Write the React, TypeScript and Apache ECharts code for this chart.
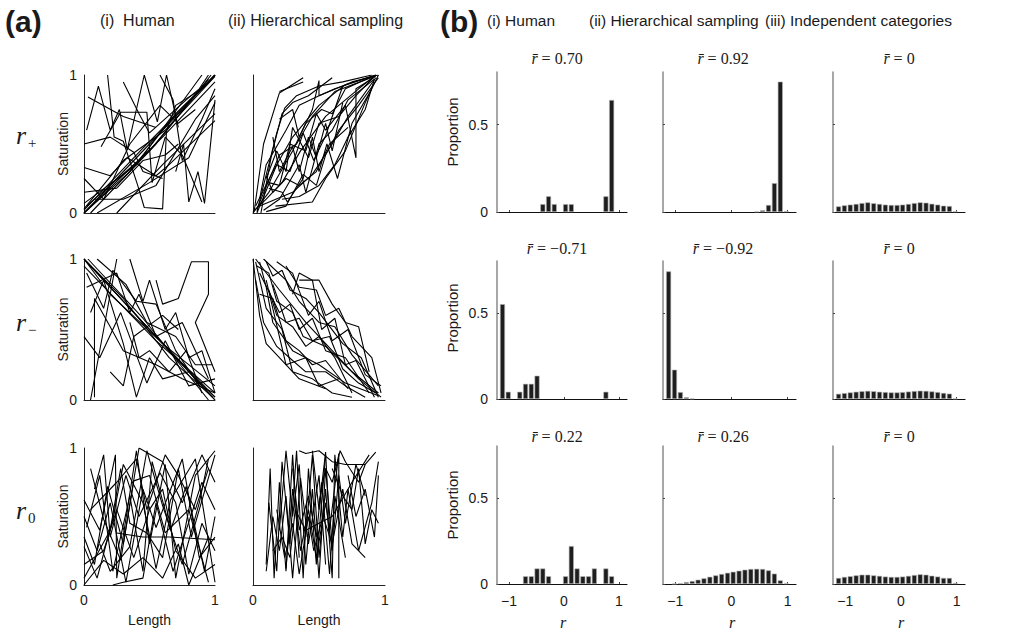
import React, { useEffect, useRef } from 'react';
import * as echarts from 'echarts';

// ---------- (a) chains of stimuli: [length, saturation] ----------
const humanPos: number[][][] = [
  [[0, 0], [1, 1]],
  [[0, 0.02], [0.45, 0.47], [1, 1]],
  [[0, 0], [0.35, 0.3], [0.7, 0.72], [1, 1]],
  [[0.02, 0.05], [0.5, 0.45], [0.95, 0.97]],
  [[0, 0], [0.6, 0.55], [1, 0.95]],
  [[0, 0.07], [0.4, 0.35], [0.9, 1]],
  [[0.05, 0], [0.55, 0.5], [0.97, 1]],
  [[0, 0.03], [0.3, 0.38], [0.62, 0.6], [1, 0.99]],
  [[0.02, 0.6], [0.11, 0.92], [0.2, 0.6], [0.27, 0.75], [0.33, 0.46], [0.46, 1.0], [0.56, 0.66], [0.63, 1.0], [0.72, 0.62]],
  [[0.18, 1.0], [0.23, 0.55], [0.3, 0.52], [0.41, 0.2], [0.46, 0.04], [0.6, 0.03], [0.63, 0.6], [0.7, 0.78], [0.9, 0.9], [1.0, 1.0]],
  [[0.03, 0.84], [0.3, 0.7], [0.55, 0.62]],
  [[0.13, 0.48], [0.28, 0.73], [0.48, 0.73], [0.52, 0.22], [0.62, 0.55], [0.75, 0.42], [0.9, 0.08]],
  [[0, 0.33], [0.2, 0.27], [0.33, 0.4], [0.55, 0.27], [0.65, 0.35], [1.0, 0.67]],
  [[0.1, 0], [0.5, 0.22], [0.8, 0.4], [1.0, 0.8]],
  [[0.25, 0], [0.6, 0.35], [1.0, 0.72]],
  [[0.7, 0.3], [0.76, 0.5], [0.8, 0.08], [0.87, 0.3], [0.92, 0.07], [1.0, 0.82]],
  [[0.08, 0.1], [0.3, 0.1], [0.55, 0.2], [0.85, 0.68], [1.0, 0.85]],
  [[0, 0.25], [0.15, 0.1], [0.35, 0.5], [0.58, 0.78], [0.72, 0.65], [0.85, 0.75]],
  [[0.58, 1.0], [0.68, 0.82], [0.75, 0.38], [0.85, 0.58], [0.9, 0.68], [1.0, 0.9]],
  [[0.0, 0.5], [0.2, 0.55], [0.38, 0.44], [0.45, 0.3], [0.6, 0.25]],
  [[0.3, 0.95], [0.42, 0.72], [0.5, 0.58], [0.78, 0.82], [0.88, 0.9], [0.95, 1.0]],
  [[0.0, 0.15], [0.25, 0.18], [0.45, 0.38], [0.62, 0.42], [0.72, 0.5]],
];

const hierPos: number[][][] = [
  [[0.01, 0.02], [0.08, 0.5], [0.2, 0.87], [0.38, 0.98]],
  [[0.02, 0.05], [0.15, 0.3], [0.3, 0.55], [0.5, 0.78], [0.7, 0.93], [0.93, 1]],
  [[0.03, 0.03], [0.2, 0.42], [0.33, 0.5], [0.45, 0.7], [0.62, 0.88], [0.92, 0.99]],
  [[0.05, 0.1], [0.1, 0.35], [0.25, 0.6], [0.35, 0.78], [0.5, 0.85], [0.75, 0.95], [0.95, 1]],
  [[0.0, 0.01], [0.1, 0.1], [0.22, 0.22], [0.36, 0.45], [0.55, 0.7], [0.8, 0.9], [0.93, 1]],
  [[0.05, 0.05], [0.3, 0.15], [0.45, 0.28], [0.6, 0.5], [0.72, 0.7], [0.93, 0.98]],
  [[0.17, 0.05], [0.45, 0.08], [0.55, 0.25], [0.7, 0.45], [0.85, 0.8], [0.95, 1]],
  [[0.1, 0.25], [0.18, 0.45], [0.25, 0.3], [0.3, 0.62], [0.42, 0.4], [0.5, 0.65], [0.65, 0.7], [0.78, 0.85], [0.93, 1]],
  [[0.08, 0.02], [0.2, 0.1], [0.35, 0.35], [0.4, 0.15], [0.5, 0.5], [0.6, 0.6], [0.72, 0.82], [0.92, 0.97]],
  [[0.2, 0.68], [0.3, 0.75], [0.35, 0.55], [0.45, 0.75], [0.5, 0.96], [0.5, 0.85], [0.62, 0.9], [0.93, 1]],
  [[0.12, 0.22], [0.2, 0.2], [0.28, 0.5], [0.4, 0.45], [0.48, 0.72], [0.55, 0.6], [0.7, 0.78], [0.78, 0.4], [0.78, 0.9], [0.93, 0.99]],
  [[0.1, 0.27], [0.15, 0.15], [0.25, 0.25], [0.35, 0.2], [0.48, 0.3], [0.58, 0.5], [0.72, 0.62]],
  [[0.03, 0.0], [0.18, 0.35], [0.28, 0.3], [0.38, 0.58], [0.46, 0.38], [0.55, 0.56], [0.68, 0.92]],
  [[0.0, 0.0], [0.12, 0.15], [0.3, 0.45], [0.4, 0.65], [0.52, 0.75], [0.6, 0.72], [0.7, 0.9], [0.88, 0.98]],
  [[0.22, 0.1], [0.35, 0.12], [0.5, 0.2], [0.62, 0.35], [0.72, 0.55], [0.85, 0.75], [0.92, 0.97]],
  [[0.06, 0.0], [0.14, 0.42], [0.22, 0.72], [0.3, 0.8], [0.42, 0.85], [0.6, 0.98]],
  [[0.15, 0.55], [0.2, 0.3], [0.3, 0.48], [0.35, 0.3], [0.42, 0.55], [0.48, 0.4], [0.55, 0.65], [0.6, 0.45], [0.68, 0.8]],
  [[0.2, 0.88], [0.38, 0.95]],
  [[0.1, 0.01], [0.25, 0.05], [0.38, 0.28], [0.48, 0.2], [0.55, 0.42], [0.65, 0.6], [0.8, 0.78], [0.95, 0.98]],
  [[0.03, 0.01], [0.18, 0.58], [0.24, 0.76], [0.33, 0.85], [0.5, 0.92], [0.68, 0.95], [0.9, 1]],
  [[0.12, 0.18], [0.22, 0.15], [0.26, 0.08], [0.38, 0.25], [0.45, 0.55], [0.5, 0.3], [0.56, 0.5], [0.64, 0.25], [0.75, 0.65], [0.9, 0.9]],
];

const humanNeg: number[][][] = [
  [[0, 1], [1, 0]],
  [[0, 1], [0.5, 0.5], [1, 0.02]],
  [[0.02, 0.98], [0.4, 0.6], [0.7, 0.3], [1, 0]],
  [[0, 1], [0.3, 0.72], [0.65, 0.3], [0.98, 0.02]],
  [[0, 0.95], [0.55, 0.42], [1, 0.05]],
  [[0.03, 1], [0.45, 0.58], [0.95, 0]],
  [[0, 1], [0.2, 0.75], [0.6, 0.4], [1, 0.1]],
  [[0.55, 0.85], [0.6, 0.68], [0.72, 0.72], [0.82, 0.98], [0.95, 0.98], [0.95, 0.75], [0.85, 0.55], [1, 0.2]],
  [[0.08, 0.02], [0.08, 0.72], [0.2, 0.52], [0.3, 0.35], [0.55, 0.25], [0.75, 0.15], [1, 0.05]],
  [[0.25, 1], [0.15, 0.5], [0.05, 0]],
  [[0.02, 0.8], [0.25, 0.9], [0.35, 0.62], [0.42, 0.75], [0.55, 0.45], [0.75, 0.55], [0.95, 0.15]],
  [[0.05, 0.62], [0.15, 0.85], [0.3, 0.4], [0.4, 0.02], [0.5, 0.3], [0.6, 0.15], [0.8, 0.2], [1, 0.02]],
  [[0.35, 1], [0.45, 0.7], [0.5, 0.85], [0.62, 0.5], [0.7, 0.62], [0.8, 0.3], [0.9, 0.35], [1, 0.05]],
  [[0, 0.45], [0.12, 0.3], [0.28, 0.62], [0.48, 0.12], [0.62, 0.42], [0.8, 0.1], [1, 0.15]],
  [[0.1, 1], [0.32, 0.82], [0.48, 0.55], [0.7, 0.45], [0.85, 0.25], [0.98, 0.25]],
  [[0.35, 0.55], [0.42, 0.3], [0.5, 0.35], [0.65, 0.2], [0.78, 0.35], [0.9, 0.05]],
  [[0.02, 0.9], [0.15, 0.65], [0.22, 0.92], [0.4, 0.7], [0.55, 0.68], [0.7, 0.35], [0.88, 0.1]],
  [[0.2, 0.2], [0.3, 0.1], [0.38, 0.45], [0.6, 0.6], [0.72, 0.5]],
];

const hierNeg: number[][][] = [
  [[0.02, 1], [0.2, 0.78], [0.4, 0.55], [0.6, 0.35], [0.8, 0.15], [0.97, 0.02]],
  [[0.05, 0.98], [0.1, 0.8], [0.15, 0.55], [0.3, 0.35], [0.5, 0.25], [0.7, 0.12], [0.95, 0.03]],
  [[0.03, 0.95], [0.12, 0.9], [0.18, 0.7], [0.3, 0.62], [0.38, 0.45], [0.55, 0.38], [0.75, 0.2], [0.95, 0.05]],
  [[0.0, 1], [0.05, 0.6], [0.1, 0.4], [0.2, 0.3], [0.35, 0.15], [0.55, 0.08]],
  [[0.08, 1], [0.25, 0.85], [0.35, 0.7], [0.5, 0.55], [0.62, 0.52], [0.75, 0.32], [0.95, 0.1]],
  [[0.05, 0.9], [0.2, 0.62], [0.28, 0.68], [0.35, 0.5], [0.45, 0.58], [0.55, 0.35], [0.7, 0.3], [0.88, 0.05]],
  [[0.1, 0.98], [0.15, 0.88], [0.22, 0.92], [0.28, 0.78], [0.4, 0.72], [0.5, 0.62], [0.68, 0.4], [0.82, 0.3], [0.95, 0.02]],
  [[0.15, 0.82], [0.25, 0.55], [0.35, 0.58], [0.45, 0.42], [0.58, 0.45], [0.68, 0.22], [0.8, 0.12], [0.93, 0.05]],
  [[0.02, 0.98], [0.1, 0.65], [0.22, 0.5], [0.3, 0.2], [0.45, 0.15], [0.6, 0.05], [0.75, 0.02]],
  [[0.25, 0.95], [0.35, 0.8], [0.48, 0.78], [0.55, 0.6], [0.65, 0.65], [0.75, 0.45], [0.9, 0.3], [0.97, 0.05]],
  [[0.1, 0.85], [0.2, 0.45], [0.25, 0.25], [0.4, 0.3], [0.5, 0.1], [0.65, 0.15]],
  [[0.18, 0.98], [0.3, 0.9], [0.42, 0.6], [0.5, 0.7], [0.6, 0.42], [0.72, 0.5], [0.85, 0.18], [0.97, 0.1]],
  [[0.05, 0.75], [0.15, 0.72], [0.25, 0.42], [0.35, 0.35], [0.45, 0.25], [0.55, 0.28], [0.72, 0.08]],
  [[0.3, 0.75], [0.35, 0.9], [0.45, 0.85], [0.52, 0.5], [0.62, 0.58], [0.7, 0.25], [0.78, 0.28], [0.92, 0.02]],
  [[0.12, 0.78], [0.18, 0.6], [0.3, 0.52], [0.4, 0.38], [0.5, 0.45], [0.62, 0.3], [0.75, 0.05]],
  [[0.02, 0.85], [0.08, 0.55], [0.18, 0.38], [0.3, 0.28], [0.4, 0.2], [0.55, 0.2], [0.7, 0.1], [0.85, 0.02]],
  [[0.35, 0.85], [0.5, 0.85], [0.6, 0.68], [0.7, 0.55], [0.8, 0.52], [0.88, 0.2]],
];

const humanZero: number[][][] = [
  [[0, 0.62], [0.12, 0.4], [0.24, 0.95], [0.25, 0.05], [0.4, 0.98], [0.5, 0.3], [0.62, 0.88], [0.7, 0.05], [0.85, 0.8], [1, 0.98]],
  [[0, 0.5], [0.1, 0.25], [0.2, 0.6], [0.32, 0.02], [0.45, 0.7], [0.55, 0.42], [0.75, 0.92], [0.88, 0.2], [1, 0.35]],
  [[0.05, 0.85], [0.15, 0.48], [0.28, 0.18], [0.38, 0.76], [0.5, 0.8], [0.62, 0.38], [0.8, 0.55], [0.95, 0.02]],
  [[0, 0.35], [0.08, 0.15], [0.18, 0.72], [0.3, 0.3], [0.42, 1], [0.6, 0.9], [0.75, 0.6], [0.9, 0.95], [1, 0.75]],
  [[0, 0.05], [0.2, 0.4], [0.28, 0.85], [0.35, 0.45], [0.48, 0.38], [0.6, 0.2], [0.72, 0.85], [0.82, 0.35], [1, 0.95]],
  [[0.02, 0.42], [0.12, 0.8], [0.22, 0.1], [0.35, 0.65], [0.45, 0.1], [0.52, 0.9], [0.66, 0.4], [0.78, 0.72], [0.92, 0.1], [1, 0.5]],
  [[0.25, 0.38], [0.45, 0.35], [0.65, 0.35], [1, 0.33]],
  [[0, 0.15], [0.15, 0.25], [0.25, 0.55], [0.38, 0.2], [0.5, 0.55], [0.6, 0.7], [0.7, 0.25], [0.85, 0.05], [1, 0.15]],
  [[0.08, 0.7], [0.15, 0.95], [0.2, 0.35], [0.32, 0.8], [0.42, 0.5], [0.58, 0.82], [0.7, 0.6], [0.8, 0.08], [0.9, 0.45], [1, 0.25]],
  [[0.0, 0.0], [0.15, 0.18], [0.3, 0.08], [0.45, 0.2], [0.6, 0.05], [0.72, 0.3], [0.8, 0.0], [0.95, 0.35]],
  [[0.22, 0.0], [0.3, 0.02], [0.45, 0.05], [0.55, 0.6], [0.68, 0.1], [0.78, 0.4], [0.9, 0.75], [1, 0.55]],
  [[0.05, 0.55], [0.25, 0.75], [0.4, 0.92], [0.48, 0.55], [0.62, 0.95], [0.72, 0.8], [0.85, 0.55], [0.95, 0.85]],
  [[0.0, 0.28], [0.1, 0.05], [0.22, 0.48], [0.3, 0.88], [0.45, 0.6], [0.55, 0.12], [0.66, 0.62], [0.85, 0.92], [1, 0.02]],
  [[0.12, 0.3], [0.2, 0.1], [0.35, 0.28], [0.48, 0.98], [0.6, 0.58], [0.75, 0.15], [0.88, 0.6], [0.95, 0.92]],
];

const hierZero: number[][][] = [
  [[0.1, 0.15], [0.13, 0.85], [0.16, 0.05], [0.2, 0.75], [0.25, 0.1], [0.3, 0.95], [0.35, 0.2]],
  [[0.12, 0.6], [0.18, 0.1], [0.22, 0.9], [0.28, 0.3], [0.33, 0.98], [0.38, 0.05], [0.42, 0.85], [0.48, 0.15], [0.55, 0.95]],
  [[0.2, 0.4], [0.25, 0.98], [0.3, 0.5], [0.35, 0.88], [0.4, 0.15], [0.45, 0.7], [0.5, 0.05], [0.55, 0.85], [0.6, 0.3]],
  [[0.35, 0.98], [0.4, 0.96], [0.5, 0.98], [0.6, 0.9], [0.7, 0.88], [0.85, 0.88], [0.93, 0.97]],
  [[0.4, 0.35], [0.45, 0.95], [0.5, 0.2], [0.55, 0.7], [0.6, 0.05], [0.62, 0.95], [0.68, 0.35], [0.72, 0.7], [0.8, 0.25], [0.9, 0.6], [0.95, 0.9]],
  [[0.15, 0.25], [0.22, 0.35], [0.28, 0.2], [0.32, 0.55], [0.4, 0.4], [0.5, 0.45], [0.6, 0.5], [0.75, 0.75], [0.88, 0.95]],
  [[0.25, 0.12], [0.3, 0.7], [0.36, 0.25], [0.42, 0.55], [0.48, 0.2], [0.55, 0.6], [0.6, 0.25], [0.65, 0.8], [0.7, 0.45], [0.78, 0.88], [0.85, 0.65]],
  [[0.45, 0.98], [0.5, 0.55], [0.55, 0.97], [0.58, 0.4], [0.65, 0.96], [0.65, 0.05]],
  [[0.1, 0.1], [0.15, 0.5], [0.2, 0.25], [0.25, 0.65], [0.3, 0.05], [0.36, 0.78], [0.42, 0.3], [0.5, 0.8], [0.55, 0.15]],
  [[0.6, 0.85], [0.68, 0.65], [0.75, 0.55], [0.8, 0.85], [0.85, 0.3], [0.9, 0.55], [0.95, 0.45]],
  [[0.3, 0.85], [0.35, 0.4], [0.42, 0.65], [0.48, 0.35], [0.52, 0.75], [0.58, 0.08], [0.62, 0.65], [0.7, 0.2]],
  [[0.72, 0.8], [0.78, 0.5], [0.85, 0.7], [0.92, 0.35], [0.95, 0.8]],
  [[0.18, 0.55], [0.24, 0.2], [0.3, 0.45], [0.35, 0.08], [0.42, 0.5], [0.46, 0.25], [0.53, 0.5], [0.6, 0.3], [0.68, 0.7], [0.75, 0.3], [0.85, 0.2]],
  [[0.5, 0.6], [0.55, 0.85], [0.6, 0.75], [0.66, 0.98], [0.7, 0.9], [0.8, 0.75], [0.85, 0.88]],
];

// ---------- (b) histograms of r ----------
const binCenters = [-1.12, -1.015, -0.91, -0.805, -0.7, -0.595, -0.49, -0.385, -0.28, -0.175, -0.07, 0.03, 0.135, 0.24, 0.345, 0.45, 0.555, 0.66, 0.765, 0.87, 0.975, 1.08];

const humanPosHist = [0, 0, 0, 0, 0, 0, 0, 0.045, 0.09, 0.045, 0, 0.045, 0.045, 0, 0, 0, 0, 0, 0.09, 0.64, 0, 0];
const hierPosHist = [0, 0, 0, 0, 0, 0, 0, 0, 0, 0, 0, 0, 0, 0, 0, 0.003, 0.01, 0.04, 0.165, 0.745, 0.005, 0];
const indepPosHist = [0.032, 0.038, 0.042, 0.046, 0.051, 0.055, 0.05, 0.046, 0.042, 0.04, 0.04, 0.042, 0.046, 0.051, 0.055, 0.053, 0.047, 0.042, 0.036, 0.034, 0.004, 0];
const humanNegHist = [0.55, 0.042, 0, 0.042, 0.088, 0.088, 0.135, 0, 0, 0, 0, 0, 0, 0, 0, 0, 0, 0, 0.042, 0, 0, 0];
const hierNegHist = [0.74, 0.17, 0.04, 0.01, 0.003, 0, 0, 0, 0, 0, 0, 0, 0, 0, 0, 0, 0, 0, 0, 0, 0, 0];
const indepNegHist = [0.03, 0.034, 0.038, 0.042, 0.045, 0.047, 0.045, 0.042, 0.04, 0.038, 0.038, 0.04, 0.043, 0.046, 0.048, 0.047, 0.044, 0.04, 0.035, 0.031, 0.003, 0];
const humanZeroHist = [0, 0, 0, 0, 0.045, 0.045, 0.09, 0.09, 0.045, 0, 0, 0.045, 0.22, 0.09, 0.045, 0.045, 0.09, 0, 0.09, 0.045, 0, 0];
const hierZeroHist = [0, 0.002, 0.005, 0.011, 0.017, 0.025, 0.033, 0.042, 0.05, 0.058, 0.065, 0.071, 0.077, 0.083, 0.087, 0.088, 0.087, 0.079, 0.06, 0.021, 0.004, 0];
const indepZeroHist = [0.035, 0.041, 0.045, 0.05, 0.054, 0.054, 0.05, 0.047, 0.043, 0.041, 0.041, 0.043, 0.047, 0.052, 0.056, 0.054, 0.048, 0.043, 0.035, 0.035, 0.006, 0];

const meanR = [['0.70', '0.92', '0'], ['\u22120.71', '\u22120.92', '0'], ['0.22', '0.26', '0']];
const rowLabelSubs = ['+', '\u2212', '0'];
const aHeaders = ['(i)  Human', '(ii) Hierarchical sampling'];
const bHeaders = ['(i) Human', '(ii) Hierarchical sampling', '(iii) Independent categories'];
const xTicksB = [-1, 0, 1];
const yTicksB = [0, 0.5];

const SANS = "'Liberation Sans', Arial, Helvetica, sans-serif";
const SERIF = "'Liberation Serif', 'DejaVu Serif', serif";
const INK = '#1a1a1a';

export default function App() {
  const ref = useRef<HTMLDivElement>(null);
  useEffect(() => {
    const chart = echarts.init(ref.current!, null, { renderer: 'svg' });
    const grid: any[] = [];
    const xAxis: any[] = [];
    const yAxis: any[] = [];
    const series: any[] = [];
    const graphic: any[] = [];
    let gi = 0;

    // ----- (a) panels -----
    const aLeft = [84, 253];
    const aWidth = [131, 132];
    const aTop = [75, 259, 448];
    const aHeight = [138, 141, 137];
    const aPanels = [[humanPos, hierPos], [humanNeg, hierNeg], [humanZero, hierZero]];
    aPanels.forEach((row, r) =>
      row.forEach((chains, c) => {
        grid.push({ left: aLeft[c], top: aTop[r], width: aWidth[c], height: aHeight[r] });
        xAxis.push({
          gridIndex: gi, type: 'value', min: 0, max: 1, interval: 1,
          axisLine: { show: true, onZero: false, lineStyle: { color: '#222', width: 1 } },
          axisTick: { show: false }, splitLine: { show: false },
          axisLabel: { show: r === 2, fontSize: 14, color: INK, margin: 8, fontFamily: SANS },
        });
        yAxis.push({
          gridIndex: gi, type: 'value', min: 0, max: 1, interval: 1,
          axisLine: { show: true, onZero: false, lineStyle: { color: '#222', width: 1 } },
          axisTick: { show: false }, splitLine: { show: false },
          axisLabel: { show: c === 0, fontSize: 14, color: INK, margin: 7, fontFamily: SANS },
        });
        chains.forEach((ch) =>
          series.push({
            type: 'line', xAxisIndex: gi, yAxisIndex: gi, data: ch, symbol: 'none', silent: true,
            lineStyle: { color: '#000', width: 1.1 },
          })
        );
        gi++;
      })
    );

    // ----- (b) panels -----
    const bLeft = [497, 663, 833];
    const bWidth = [130, 133, 132];
    const bTop = [72, 261, 446];
    const bHeight = [140, 138, 138];
    const titleX = [557, 723, 899];
    const titleY = [58, 248, 436];
    const rLabelX = [563, 732, 901];
    const bPanels = [
      [humanPosHist, hierPosHist, indepPosHist],
      [humanNegHist, hierNegHist, indepNegHist],
      [humanZeroHist, hierZeroHist, indepZeroHist],
    ];
    bPanels.forEach((row, r) =>
      row.forEach((vals, c) => {
        grid.push({ left: bLeft[c], top: bTop[r], width: bWidth[c], height: bHeight[r] });
        xAxis.push({
          gridIndex: gi, type: 'value', min: -1.22, max: 1.15,
          axisLine: { show: true, onZero: false, lineStyle: { color: '#111', width: 1.2 } },
          axisTick: { show: true, inside: true, length: 2, customValues: xTicksB, lineStyle: { color: '#444' } },
          splitLine: { show: false },
          axisLabel: { show: r === 2, customValues: xTicksB, fontSize: 14, color: INK, margin: 10, fontFamily: SANS,
            formatter: (v: number) => (v < 0 ? '\u2212' + Math.abs(v) : String(v)) },
        });
        yAxis.push({
          gridIndex: gi, type: 'value', min: 0, max: 0.8,
          axisLine: { show: true, onZero: false, lineStyle: { color: '#8a8a8a', width: 1.5 } },
          axisTick: { show: true, inside: true, length: 2, customValues: yTicksB, lineStyle: { color: '#444' } },
          splitLine: { show: false },
          axisLabel: { show: c === 0, customValues: yTicksB, fontSize: 14, color: INK, margin: 9, fontFamily: SANS },
        });
        series.push({
          type: 'bar', xAxisIndex: gi, yAxisIndex: gi, barWidth: 5, silent: true,
          data: binCenters.map((x, i) => [x, vals[i]]).filter((d) => d[1] > 0),
          itemStyle: { color: '#1e1e1e', borderColor: '#b5b5b5', borderWidth: 0.6 },
        });
        graphic.push({
          type: 'text', x: titleX[c], y: titleY[r],
          style: {
            text: '{i|r\u0304} = ' + meanR[r][c], fill: INK, fontFamily: SERIF, fontSize: 16,
            align: 'center', verticalAlign: 'middle', textAlign: 'center', textVerticalAlign: 'middle',
            rich: { i: { fontStyle: 'italic', fontFamily: SERIF, fontSize: 16, fill: INK } },
          },
        });
        gi++;
      })
    );

    const txt = (x: number, y: number, text: string, extra: any = {}) => ({
      type: 'text', x, y,
      style: {
        text, fill: INK, fontFamily: SANS, fontSize: 15,
        align: 'left', verticalAlign: 'middle', textAlign: 'left', textVerticalAlign: 'middle',
        ...extra,
      },
    });

    // panel letters and headers
    graphic.push(txt(5, 21, '(a)', { fontSize: 30, fontWeight: 'bold' }));
    graphic.push(txt(440, 21, '(b)', { fontSize: 30, fontWeight: 'bold' }));
    graphic.push(txt(100, 20, aHeaders[0], { fontSize: 16 }));
    graphic.push(txt(228, 20, aHeaders[1], { fontSize: 16 }));
    graphic.push(txt(487, 20, bHeaders[0], { fontSize: 15.5 }));
    graphic.push(txt(589, 20, bHeaders[1], { fontSize: 15.5 }));
    graphic.push(txt(765, 20, bHeaders[2], { fontSize: 15.5 }));

    // row labels r_+, r_-, r_0
    const rowY = [135, 322, 510];
    rowY.forEach((y, i) => {
      graphic.push(txt(16, y, 'r', { fontFamily: SERIF, fontStyle: 'italic', fontSize: 26 }));
      graphic.push(txt(28, y + 8, rowLabelSubs[i], { fontFamily: SERIF, fontSize: 15 }));
    });

    // y-axis titles
    aTop.forEach((t, r) => {
      graphic.push({
        ...txt(63, t + aHeight[r] / 2, 'Saturation', { align: 'center', textAlign: 'center', fontSize: 14 }),
        rotation: Math.PI / 2,
      });
    });
    const propY = [132, 318, 505];
    propY.forEach((y) => {
      graphic.push({
        ...txt(452, y, 'Proportion', { align: 'center', textAlign: 'center', fontSize: 15 }),
        rotation: Math.PI / 2,
      });
    });

    // x-axis titles
    graphic.push(txt(aLeft[0] + aWidth[0] / 2, 620, 'Length', { align: 'center', textAlign: 'center', fontSize: 14 }));
    graphic.push(txt(aLeft[1] + aWidth[1] / 2, 620, 'Length', { align: 'center', textAlign: 'center', fontSize: 14 }));
    rLabelX.forEach((x) => {
      graphic.push(txt(x, 622, 'r', { align: 'center', textAlign: 'center', fontFamily: SERIF, fontStyle: 'italic', fontSize: 16 }));
    });

    chart.setOption({
      animation: false,
      backgroundColor: '#ffffff',
      grid, xAxis, yAxis, series, graphic,
    });
    return () => chart.dispose();
  }, []);
  return <div ref={ref} style={{ position: 'absolute', left: 0, top: 0, width: 1030, height: 631 }} />;
}
